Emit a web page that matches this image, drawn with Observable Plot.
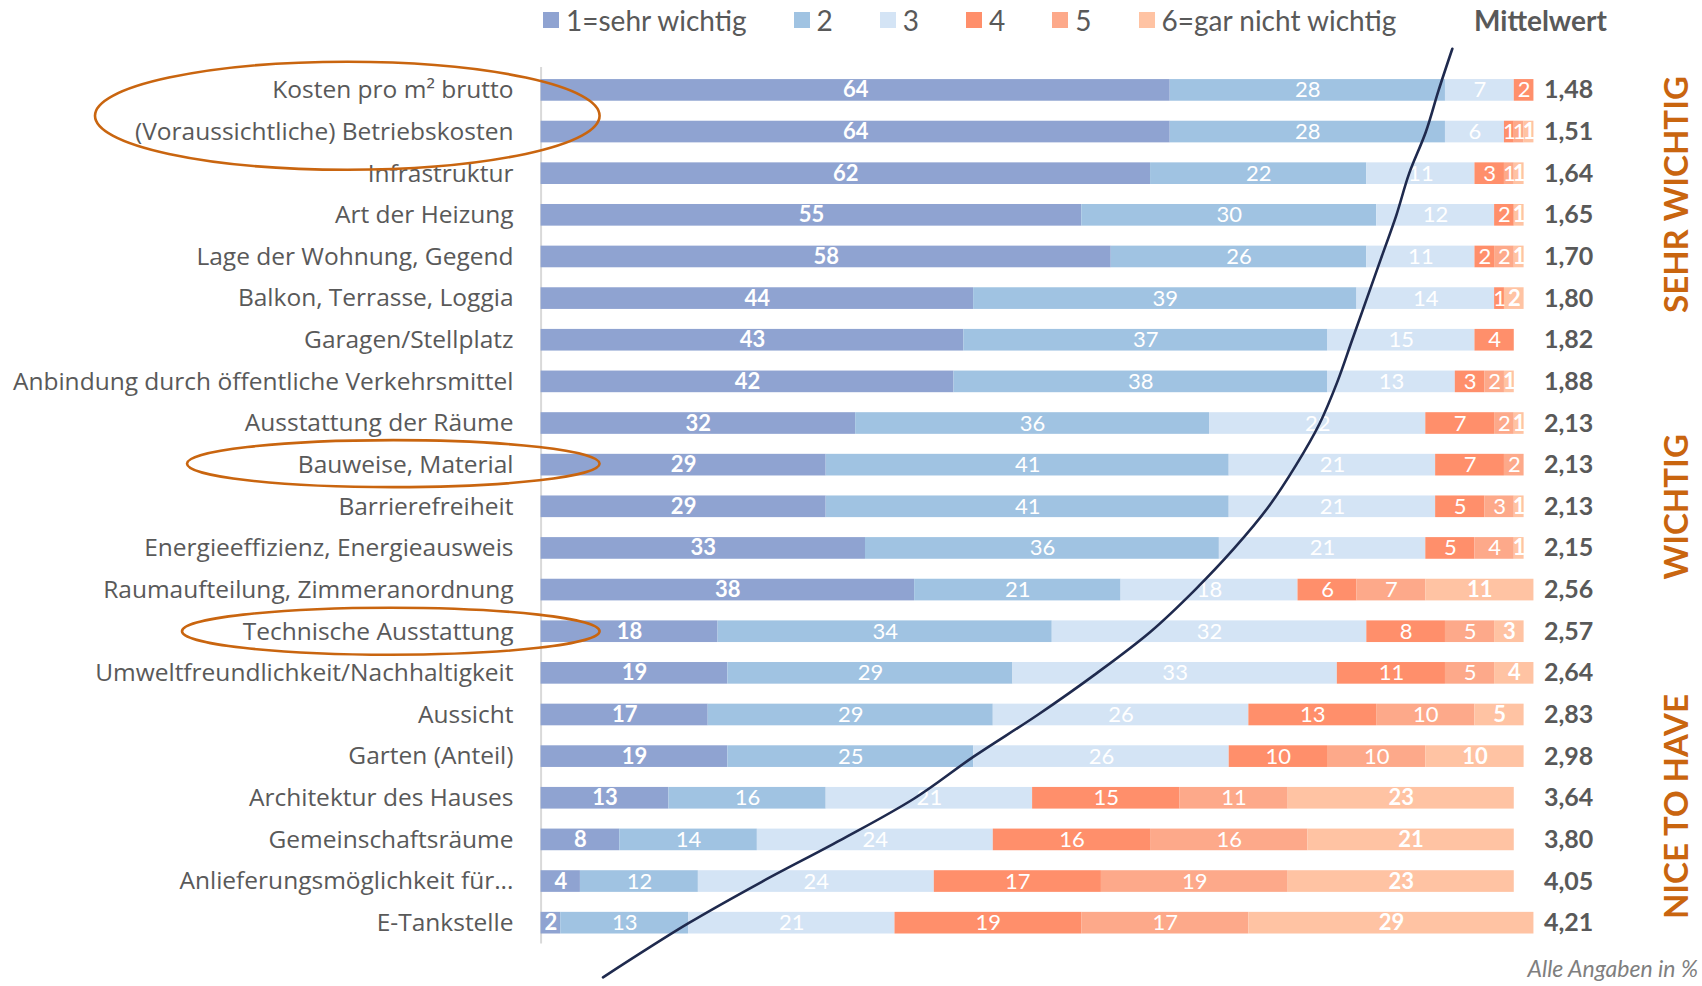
<!DOCTYPE html>
<html><head><meta charset="utf-8">
<script src="https://cdn.jsdelivr.net/npm/d3@7"></script>
<script src="https://cdn.jsdelivr.net/npm/@observablehq/plot@0.6"></script>
<style>
html,body{margin:0;padding:0;background:#fff;}
#wrap{position:relative;width:1702px;height:986px;overflow:hidden;background:#fff;}
#legend{position:absolute;left:0;top:0;height:40px;width:1702px;font-family:Lato,sans-serif;font-size:28px;color:#595959;z-index:2;}
#items{position:absolute;left:543px;top:0;height:40px;display:flex;align-items:center;}
.item{display:flex;align-items:center;margin-right:47px;white-space:nowrap;}
.sw{width:16px;height:16px;margin-right:7px;}
#mw{position:absolute;left:1474px;top:0;height:40px;line-height:40px;font-weight:bold;}
#chart{position:absolute;left:0;top:40px;}
#caption{position:absolute;right:4px;top:954px;font-family:Lato,sans-serif;font-style:italic;font-size:23px;color:#7f7f7f;}
</style></head>
<body><div id="wrap"><div id="legend"><div id="items"></div><div id="mw">Mittelwert</div></div><div id="chart"></div><div id="caption">Alle Angaben in %</div></div>
<script>
const categories = [
  "Kosten pro m² brutto",
  "(Voraussichtliche) Betriebskosten",
  "Infrastruktur",
  "Art der Heizung",
  "Lage der Wohnung, Gegend",
  "Balkon, Terrasse, Loggia",
  "Garagen/Stellplatz",
  "Anbindung durch öffentliche Verkehrsmittel",
  "Ausstattung der Räume",
  "Bauweise, Material",
  "Barrierefreiheit",
  "Energieeffizienz, Energieausweis",
  "Raumaufteilung, Zimmeranordnung",
  "Technische Ausstattung",
  "Umweltfreundlichkeit/Nachhaltigkeit",
  "Aussicht",
  "Garten (Anteil)",
  "Architektur des Hauses",
  "Gemeinschaftsräume",
  "Anlieferungsmöglichkeit für...",
  "E-Tankstelle"
];
const levels = ["1=sehr wichtig", "2", "3", "4", "5", "6=gar nicht wichtig"];
const colors = ["#8FA3D1", "#A0C3E2", "#D4E4F5", "#FF8F6B", "#FDA98A", "#FFC3A3"];
const s1 = [64, 64, 62, 55, 58, 44, 43, 42, 32, 29, 29, 33, 38, 18, 19, 17, 19, 13, 8, 4, 2];
const s2 = [28, 28, 22, 30, 26, 39, 37, 38, 36, 41, 41, 36, 21, 34, 29, 29, 25, 16, 14, 12, 13];
const s3 = [7, 6, 11, 12, 11, 14, 15, 13, 22, 21, 21, 21, 18, 32, 33, 26, 26, 21, 24, 24, 21];
const s4 = [2, 1, 3, 2, 2, 1, 4, 3, 7, 7, 5, 5, 6, 8, 11, 13, 10, 15, 16, 17, 19];
const s5 = [0, 1, 1, 0, 2, 0, 0, 2, 2, 2, 3, 4, 7, 5, 5, 10, 10, 11, 16, 19, 17];
const s6 = [0, 1, 1, 1, 1, 2, 0, 1, 1, 0, 1, 1, 11, 3, 4, 5, 10, 23, 21, 23, 29];
const means = ["1,48","1,51","1,64","1,65","1,70","1,80","1,82","1,88","2,13","2,13","2,13","2,15","2,56","2,57","2,64","2,83","2,98","3,64","3,80","4,05","4,21"];
const sections = ["SEHR WICHTIG", "WICHTIG", "NICE TO HAVE"];
const sectionRows = [2.5, 10, 17.2];
// hand-drawn trend curve: row position and x in %
const curveRow = [-1, 0, 1, 2, 3, 4, 5, 6, 7, 8, 9, 10, 11, 12, 13, 14, 15, 16, 17, 18, 19, 20, 21.3];
const curveX = [92.7, 91.3, 90, 88.3, 87, 85.5, 84, 82.5, 81, 79.2, 76.8, 74, 70.5, 66.5, 62, 56.5, 50.5, 44, 38, 30.5, 22.5, 15, 6.3];
const highlighted = [
  ["Kosten pro m² brutto", "(Voraussichtliche) Betriebskosten"],
  ["Bauweise, Material"],
  ["Technische Ausstattung"]
];

const series = [s1, s2, s3, s4, s5, s6];
const segs = [];
categories.forEach((c, i) => {
  let acc = 0;
  series.forEach((s, k) => {
    const v = s[i];
    segs.push({row: i, k, level: levels[k], value: v, x1: acc, x2: acc + v});
    acc += v;
  });
});
const shown = segs.filter(d => d.value > 0);
const bh = 0.26;

// legend
const items = d3.select("#items");
levels.forEach((l, k) => {
  const it = items.append("div").attr("class", "item");
  it.append("div").attr("class", "sw").style("background", colors[k]);
  it.append("span").text(l);
});

const plot = Plot.plot({
  width: 1702, height: 946,
  marginLeft: 540.6, marginRight: 178.4, marginTop: 27, marginBottom: 42.5,
  x: {domain: [0, 100], axis: null},
  y: {domain: [-0.55, 20.5], reverse: true},
  color: {type: "ordinal", domain: levels, range: colors},
  style: {fontFamily: "Lato, sans-serif", background: "white", overflow: "visible"},
  marks: [
    Plot.ruleX([0], {stroke: "#d9d9d9", strokeWidth: 2}),
    Plot.rect(shown, {x1: "x1", x2: "x2", y1: d => d.row - bh, y2: d => d.row + bh, fill: "level"}),
    Plot.text(shown.filter(d => d.k === 0 || d.k === 5), {x: d => (d.x1 + d.x2) / 2, y: "row", text: "value", fill: "white", fontSize: 22, fontWeight: "bold"}),
    Plot.text(shown.filter(d => d.k > 0 && d.k < 5), {x: d => (d.x1 + d.x2) / 2, y: "row", text: "value", fill: "white", fontSize: 22}),
    Plot.axisY(d3.range(categories.length), {tickFormat: i => categories[i], tickSize: 0, tickPadding: 27.6, fontSize: 24.5, fontFamily: "Open Sans, sans-serif", fill: "#595959", label: null}),
    Plot.text(means, {y: (d, i) => i, frameAnchor: "right", textAnchor: "middle", dx: 44.5, text: d => d, fontSize: 25, fontWeight: "bold", fill: "#595959"}),
    Plot.text(sections, {y: (d, i) => sectionRows[i], frameAnchor: "right", textAnchor: "middle", dx: 153.5, rotate: -90, text: d => d, fontSize: 33, fontWeight: "bold", fill: "#C9650F"}),
    Plot.line(curveX.map((x, i) => ({x, y: curveRow[i]})), {x: "x", y: "y", curve: "catmull-rom", stroke: "#1F2A4E", strokeWidth: 2.6})
  ]
});
document.getElementById("chart").appendChild(plot);

// orange ellipses around highlighted labels
const xs = plot.scale("x"), ys = plot.scale("y");
const ann = [
  {left: 95, ryPx: 54, dy: 5},
  {left: 187, ryPx: 23.5, dy: -1},
  {left: 182, ryPx: 23.5, dy: 0}
];
const g = d3.select(plot).append("g").attr("fill", "none").attr("stroke", "#C9650F").attr("stroke-width", 2.6);
highlighted.forEach((grp, j) => {
  const idx = grp.map(c => categories.indexOf(c));
  const cy = d3.mean(idx, i => ys.apply(i)) + ann[j].dy;
  const right = xs.apply(6);
  const left = ann[j].left;
  g.append("ellipse").attr("cx", (left + right) / 2).attr("cy", cy).attr("rx", (right - left) / 2).attr("ry", ann[j].ryPx);
});
</script>
</body></html>
